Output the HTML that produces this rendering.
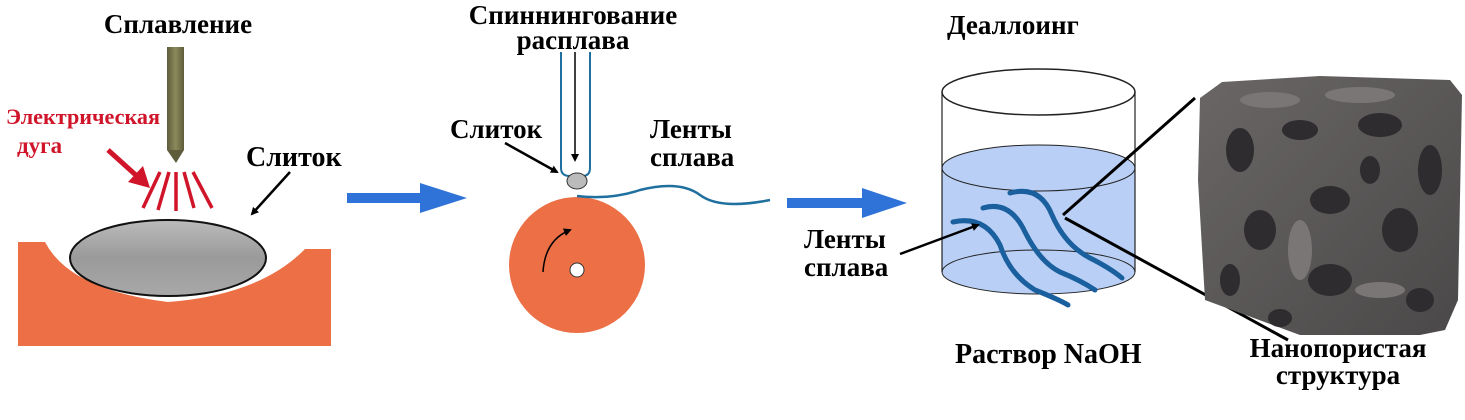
<!DOCTYPE html>
<html><head><meta charset="utf-8"><style>
html,body{margin:0;padding:0;background:#fff;width:1465px;height:420px;overflow:hidden}
text{font-family:"Liberation Serif","DejaVu Serif",serif;font-weight:bold}
</style></head><body>
<svg width="1465" height="420" viewBox="0 0 1465 420" xmlns="http://www.w3.org/2000/svg">
<defs>
<linearGradient id="g1" x1="0" y1="0" x2="0" y2="1"><stop offset="0" stop-color="#bbb"/><stop offset="0.5" stop-color="#9a9a9a"/><stop offset="1" stop-color="#a8a8a8"/></linearGradient>
<linearGradient id="el" x1="0" y1="0" x2="1" y2="0"><stop offset="0" stop-color="#5d5d3c"/><stop offset="0.5" stop-color="#8a8a5c"/><stop offset="1" stop-color="#5d5d3c"/></linearGradient>
<linearGradient id="cb" x1="0" y1="0" x2="1" y2="1"><stop offset="0" stop-color="#6a6666"/><stop offset="1" stop-color="#4a4848"/></linearGradient>
<marker id="ab" markerWidth="8" markerHeight="8" refX="6" refY="4" orient="auto" markerUnits="userSpaceOnUse"><path d="M0,0 L8,4 L0,8z" fill="#000"/></marker>
</defs>
<!-- LEFT -->
<text x="178" y="33" font-size="27" text-anchor="middle">Сплавление</text>
<rect x="167" y="47" width="17" height="103" fill="url(#el)"/>
<path d="M167,150 L184,150 L176,163z" fill="#5d5d3c"/>
<text x="6" y="124" font-size="22" fill="#d0152a" textLength="154" lengthAdjust="spacingAndGlyphs">Электрическая</text>
<text x="17" y="153" font-size="23" fill="#d0152a">дуга</text>
<line x1="108" y1="150" x2="138" y2="177" stroke="#d0152a" stroke-width="5"/>
<path d="M128,182 L150,188 L143,166z" fill="#d0152a"/>
<g stroke="#d0152a" stroke-width="3.5">
<line x1="160" y1="172" x2="143" y2="208"/><line x1="169" y1="172" x2="158" y2="210"/>
<line x1="176" y1="172" x2="176" y2="211"/><line x1="184" y1="172" x2="194" y2="208"/>
<line x1="193" y1="172" x2="212" y2="208"/></g>
<path d="M18,242 L45,242 Q70,290 168,302 Q260,295 305,249 L331,249 L331,346 L18,346z" fill="#ec6f45"/>
<ellipse cx="168" cy="258" rx="98" ry="38" fill="url(#g1)" stroke="#111" stroke-width="2"/>
<text x="246" y="166" font-size="28">Слиток</text>
<line x1="290" y1="172" x2="252" y2="214" stroke="#000" stroke-width="2.5" marker-end="url(#ab)"/>
<path d="M347,193 L420,193 L420,183 L467,198 L420,213 L420,203 L347,203z" fill="#2f73d8"/>
<!-- MIDDLE -->
<text x="573" y="24" font-size="27" text-anchor="middle">Спиннингование</text>
<text x="573" y="49" font-size="27" text-anchor="middle">расплава</text>
<path d="M561,52 L561,168 Q561,176 570,176 L582,176 Q590,176 590,168 L590,52" fill="none" stroke="#1f6f9f" stroke-width="2"/>
<line x1="575" y1="52" x2="575" y2="160" stroke="#000" stroke-width="1.5" marker-end="url(#ab)"/>
<circle cx="577" cy="265" r="68" fill="#ec6f45"/>
<circle cx="577" cy="270" r="7" fill="#fff" stroke="#333" stroke-width="1"/>
<path d="M543,272 Q545,240 570,230" fill="none" stroke="#000" stroke-width="1.5" marker-end="url(#ab)"/>
<ellipse cx="577" cy="181" rx="10" ry="8" fill="#bbb" stroke="#333" stroke-width="1"/>
<path d="M577,196 Q610,200 640,190 Q680,180 700,195 Q720,210 770,200" fill="none" stroke="#1f6f9f" stroke-width="2.5"/>
<text x="450" y="138" font-size="27">Слиток</text>
<line x1="505" y1="143" x2="557" y2="172" stroke="#000" stroke-width="2.5" marker-end="url(#ab)"/>
<text x="650" y="138" font-size="27">Ленты</text>
<text x="650" y="166" font-size="27">сплава</text>
<path d="M787,198 L862,198 L862,188 L907,203 L862,218 L862,208 L787,208z" fill="#2f73d8"/>
<!-- RIGHT -->
<text x="947" y="34" font-size="27">Деаллоинг</text>
<path d="M942,168 A96,23 0 0 1 1135,168 L1135,272 A96,22 0 0 1 942,272z" fill="#b9cff5"/>
<ellipse cx="1038.5" cy="168" rx="96.5" ry="23" fill="none" stroke="#222" stroke-width="1"/>
<ellipse cx="1038.5" cy="272" rx="96.5" ry="22" fill="none" stroke="#222" stroke-width="1"/>
<ellipse cx="1038.5" cy="92" rx="96.5" ry="23" fill="none" stroke="#222" stroke-width="1.5"/>
<line x1="942" y1="92" x2="942" y2="272" stroke="#222" stroke-width="1.2"/>
<line x1="1135" y1="92" x2="1135" y2="272" stroke="#222" stroke-width="1.2"/>
<g fill="none" stroke="#1a5f9e" stroke-width="5" stroke-linecap="round">
<path d="M953,222 Q985,215 1000,245 Q1010,275 1035,290 Q1060,300 1068,305"/>
<path d="M983,208 Q1010,200 1025,232 Q1040,262 1060,272 Q1080,280 1095,290"/>
<path d="M1010,193 Q1040,185 1052,215 Q1065,245 1090,258 Q1110,268 1122,278"/>
</g>
<text x="804" y="248" font-size="27">Ленты</text>
<text x="804" y="276" font-size="27">сплава</text>
<line x1="900" y1="254" x2="978" y2="225" stroke="#000" stroke-width="2.5" marker-end="url(#ab)"/>
<line x1="1063" y1="215" x2="1195" y2="98" stroke="#000" stroke-width="3"/>
<line x1="1065" y1="218" x2="1288" y2="340" stroke="#000" stroke-width="3"/>
<text x="955" y="363" font-size="28">Раствор NaOH</text>
<!-- cube -->
<g>
<path d="M1200,98 L1222,82 L1320,76 L1450,80 L1462,95 L1458,300 L1445,330 L1420,335 L1300,335 L1205,300 L1198,180z" fill="url(#cb)"/>
<g fill="#2e2c2e">
<ellipse cx="1240" cy="150" rx="14" ry="22"/><ellipse cx="1300" cy="130" rx="18" ry="10"/>
<ellipse cx="1380" cy="125" rx="22" ry="12"/><ellipse cx="1430" cy="170" rx="12" ry="25"/>
<ellipse cx="1260" cy="230" rx="16" ry="20"/><ellipse cx="1330" cy="200" rx="20" ry="14"/>
<ellipse cx="1400" cy="230" rx="18" ry="22"/><ellipse cx="1230" cy="280" rx="10" ry="16"/>
<ellipse cx="1330" cy="280" rx="22" ry="16"/><ellipse cx="1420" cy="300" rx="14" ry="12"/>
<ellipse cx="1280" cy="318" rx="12" ry="9"/><ellipse cx="1370" cy="170" rx="10" ry="14"/>
</g>
<g fill="#7a7676">
<ellipse cx="1270" cy="100" rx="30" ry="8"/><ellipse cx="1360" cy="95" rx="35" ry="8"/>
<ellipse cx="1300" cy="250" rx="12" ry="30"/><ellipse cx="1380" cy="290" rx="25" ry="8"/>
</g>
</g>
<text x="1338" y="357" font-size="27" text-anchor="middle">Нанопористая</text>
<text x="1338" y="384" font-size="27" text-anchor="middle">структура</text>
</svg>
</body></html>
